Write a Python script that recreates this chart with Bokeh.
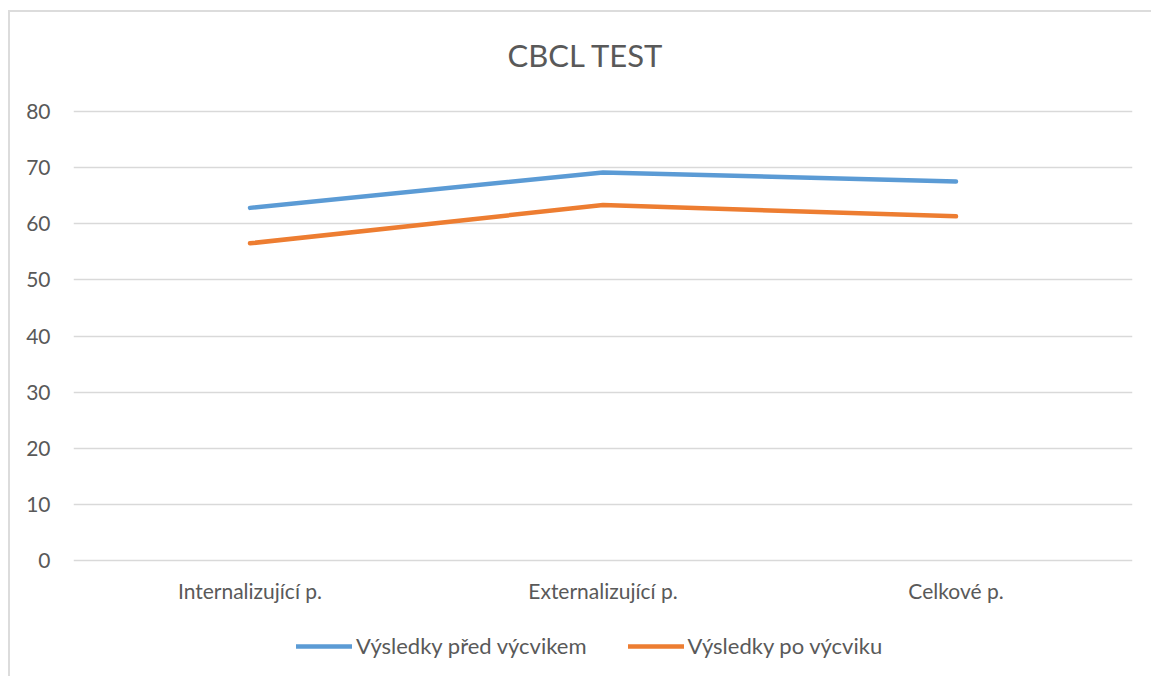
from bokeh.plotting import figure
from bokeh.models import Legend, LegendItem, FactorRange, Range1d, FixedTicker, Title
from bokeh.embed import file_html
from bokeh.resources import INLINE

categories = ["Internalizující p.", "Externalizující p.", "Celkové p."]
before = [62.8, 69.1, 67.5]
after = [56.5, 63.3, 61.3]
series_names = ["Výsledky před výcvikem", "Výsledky po výcviku"]
y_ticks = [0, 10, 20, 30, 40, 50, 60, 70, 80]
y_min, y_max = 0, 80
title_text = "CBCL TEST"

FONT = "Lato"
TXT = "#595959"
GRID = "#d9d9d9"
BLUE = "#5B9BD5"
ORANGE = "#ED7D31"

# extra room below the zero line holds the category labels and the legend
pad_top, pad_bottom = 0.3, 18.6
p = figure(
    x_range=FactorRange(*categories, range_padding=0),
    y_range=Range1d(y_min - pad_bottom, y_max + pad_top),
    frame_width=1059, frame_height=556,
    output_backend="svg", toolbar_location=None,
    min_border_left=63, min_border_right=19,
    min_border_top=97, min_border_bottom=11,
)
p.styles = {
    "margin-left": "8px", "margin-top": "10px",
    "border-left": "2px solid #dcdcdc", "border-top": "2px solid #dcdcdc",
}
p.outline_line_color = None
p.background_fill_color = "white"
p.border_fill_color = "white"

p.title.text = title_text
p.title.align = "left"
p.title.offset = 434
p.title.text_font = FONT
p.title.text_font_size = "31px"
p.title.text_font_style = "normal"
p.title.text_color = TXT
p.title.standoff = 10

# blank spacer between the title and the plot area
spacer = Title(text=" ", text_font_size="10px", standoff=18, text_color="white")
p.add_layout(spacer, "above")

r1 = p.line(categories, before, line_color=BLUE, line_width=4.5, line_cap="round", line_join="round")
r2 = p.line(categories, after, line_color=ORANGE, line_width=4.5, line_cap="round", line_join="round")

p.yaxis.ticker = FixedTicker(ticks=y_ticks)
p.ygrid.ticker = FixedTicker(ticks=y_ticks)
p.xgrid.grid_line_color = None
p.ygrid.grid_line_color = GRID
p.ygrid.grid_line_width = 1.5

for ax in (p.xaxis[0], p.yaxis[0]):
    ax.axis_line_color = None
    ax.major_tick_line_color = None
    ax.minor_tick_line_color = None
    ax.major_tick_out = 0
    ax.major_tick_in = 0
    ax.major_label_text_font = FONT
    ax.major_label_text_font_size = "21px"
    ax.major_label_text_color = TXT
p.yaxis.major_label_standoff = 23
p.xaxis.fixed_location = y_min
p.xaxis.major_label_standoff = 17

legend = Legend(
    items=[LegendItem(label=series_names[0], renderers=[r1]),
           LegendItem(label=series_names[1], renderers=[r2])],
    orientation="horizontal", location=(223, 6),
    glyph_width=56, label_standoff=4, spacing=41,
    border_line_color=None, background_fill_alpha=0,
    label_text_font=FONT, label_text_font_size="22px", label_text_color=TXT,
    margin=0, padding=0,
)
p.add_layout(legend, "center")

open("out.html", "w").write(file_html(p, INLINE))
